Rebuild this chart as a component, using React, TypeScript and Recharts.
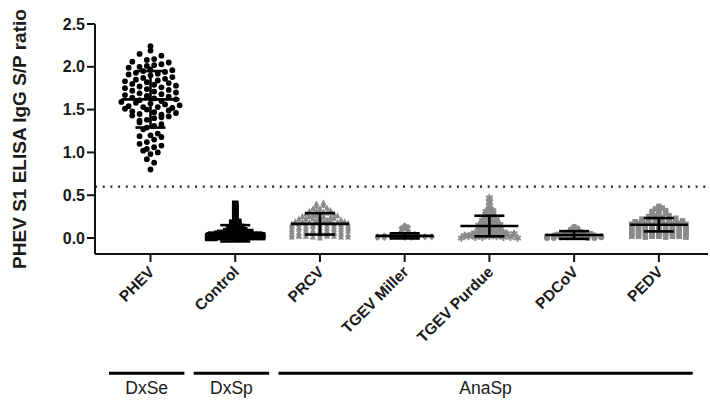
import React from 'react';
import { ComposedChart, Scatter, XAxis, YAxis, ReferenceLine } from 'recharts';

const categories = ['PHEV', 'Control', 'PRCV', 'TGEV Miller', 'TGEV Purdue', 'PDCoV', 'PEDV'];
const yTicks = [0, 0.5, 1.0, 1.5, 2.0, 2.5];
const yTitle = 'PHEV S1 ELISA IgG S/P ratio';
const cutoff = 0.6;

// group mean and SD
const means = [1.62, 0.055, 0.165, 0.025, 0.14, 0.035, 0.155];
const sds = [0.33, 0.095, 0.125, 0.03, 0.12, 0.045, 0.078];

const groups = [
  { label: 'DxSe', first: 0, last: 0 },
  { label: 'DxSp', first: 1, last: 1 },
  { label: 'AnaSp', first: 2, last: 6 },
];

const phev = [2.24, 2.19, 2.15, 2.13, 2.09, 2.08, 2.06, 2.05, 2.03, 2.02, 2.01, 2.0, 1.99, 1.97, 1.96, 1.95, 1.94,
  1.93, 1.92, 1.91, 1.9, 1.88, 1.87, 1.86, 1.85, 1.84, 1.83, 1.82, 1.81, 1.8, 1.79, 1.78, 1.77, 1.76, 1.75, 1.74,
  1.73, 1.72, 1.71, 1.7, 1.69, 1.68, 1.67, 1.66, 1.65, 1.64, 1.63, 1.62, 1.61, 1.6, 1.59, 1.58, 1.57, 1.56, 1.55,
  1.54, 1.53, 1.53, 1.52, 1.51, 1.5, 1.49, 1.48, 1.47, 1.46, 1.45, 1.44, 1.43, 1.42, 1.41, 1.4, 1.38, 1.37, 1.35,
  1.33, 1.31, 1.29, 1.27, 1.22, 1.2, 1.19, 1.18, 1.15, 1.12, 1.1, 1.08, 1.06, 1.04, 1.02, 1.0, 0.98, 0.92, 0.88, 0.8];

const control = [0.0, 0.01, 0.0, 0.01, 0.01, 0.0, 0.01, 0.0, 0.01, 0.01,
  0.02, 0.03, 0.02, 0.03, 0.03, 0.02, 0.03, 0.02, 0.03, 0.02,
  0.04, 0.05, 0.04, 0.05, 0.04, 0.05, 0.04, 0.05, 0.04,
  0.06, 0.07, 0.06, 0.07, 0.06, 0.07,
  0.08, 0.09, 0.08, 0.09,
  0.1, 0.11, 0.1,
  0.12, 0.13, 0.12,
  0.14, 0.15, 0.16, 0.17, 0.18, 0.19,
  0.21, 0.23, 0.25, 0.27, 0.29, 0.31, 0.33, 0.35, 0.37, 0.39, 0.4];

const prcv = [0.01, 0.02, 0.0, 0.02, 0.01, 0.02, 0.01, 0.02, 0.01,
  0.04, 0.05, 0.03, 0.05, 0.04, 0.03, 0.05, 0.04, 0.04,
  0.07, 0.08, 0.06, 0.07, 0.08, 0.06, 0.07, 0.08, 0.07,
  0.1, 0.11, 0.09, 0.1, 0.11, 0.1, 0.09, 0.11, 0.1,
  0.13, 0.14, 0.12, 0.13, 0.14, 0.12, 0.13, 0.14, 0.13,
  0.16, 0.17, 0.15, 0.16, 0.17, 0.16, 0.15, 0.17, 0.16,
  0.19, 0.2, 0.18, 0.19, 0.2, 0.19, 0.18, 0.2,
  0.22, 0.23, 0.21, 0.22, 0.23, 0.22, 0.21,
  0.25, 0.26, 0.24, 0.25, 0.26, 0.25,
  0.28, 0.29, 0.27, 0.28, 0.29,
  0.31, 0.32, 0.3, 0.31,
  0.34, 0.35, 0.34,
  0.37, 0.38,
  0.4, 0.41];

const tgevMiller = [0.0, 0.01, 0.0, 0.01, 0.01, 0.0, 0.01, 0.0, 0.01,
  0.02, 0.03, 0.02, 0.03, 0.02, 0.03, 0.02, 0.03, 0.02,
  0.04, 0.05, 0.04, 0.05,
  0.06, 0.07,
  0.08, 0.09,
  0.11,
  0.12, 0.13,
  0.15];

const tgevPurdue = [0.0, 0.01, 0.02, 0.01, 0.0, 0.02, 0.01, 0.02, 0.01,
  0.03, 0.04, 0.05, 0.04, 0.03, 0.05, 0.04, 0.03,
  0.06, 0.07, 0.08, 0.07, 0.06,
  0.09, 0.1, 0.11, 0.1,
  0.12, 0.13, 0.14, 0.13,
  0.15, 0.16, 0.17, 0.16,
  0.18, 0.19, 0.2,
  0.21, 0.22, 0.23,
  0.25, 0.26,
  0.28, 0.29,
  0.31, 0.32,
  0.34, 0.37, 0.42, 0.47];

const pdcov = [0.0, 0.01, 0.01, 0.0, 0.01, 0.0, 0.01, 0.01, 0.0,
  0.02, 0.03, 0.02, 0.03, 0.02, 0.03, 0.03, 0.02, 0.03,
  0.04, 0.05, 0.04, 0.05, 0.04, 0.05,
  0.06, 0.07, 0.06,
  0.08, 0.09,
  0.1, 0.11,
  0.13];

const pedv = [0.02, 0.01, 0.02, 0.02, 0.01, 0.02, 0.02, 0.01, 0.02,
  0.04, 0.05, 0.03, 0.05, 0.04, 0.05, 0.03, 0.04, 0.05,
  0.07, 0.08, 0.06, 0.08, 0.07, 0.08, 0.06, 0.07, 0.08,
  0.1, 0.11, 0.09, 0.11, 0.1, 0.11, 0.09, 0.1, 0.11,
  0.13, 0.14, 0.12, 0.14, 0.13, 0.14, 0.12, 0.13, 0.14,
  0.16, 0.17, 0.15, 0.17, 0.16, 0.17, 0.15, 0.16, 0.17,
  0.19, 0.2, 0.18, 0.2, 0.19, 0.2, 0.19, 0.2,
  0.22, 0.23, 0.21, 0.23, 0.22, 0.23,
  0.25, 0.26, 0.24, 0.26,
  0.28, 0.29, 0.28,
  0.31, 0.32, 0.31,
  0.34, 0.35,
  0.37];

const seriesValues = [phev, control, prcv, tgevMiller, tgevPurdue, pdcov, pedv];

const GRAY = '#8a8a8a';
const styles = [
  { kind: 'circle', color: '#000', size: 2.9, bin: 0.08, step: 0.086 },
  { kind: 'square', color: '#000', size: 6.5, bin: 0.02, step: 0.071 },
  { kind: 'triangle', color: GRAY, size: 6, bin: 0.03, step: 0.083 },
  { kind: 'diamond', color: GRAY, size: 6, bin: 0.02, step: 0.08 },
  { kind: 'star', color: GRAY, size: 6, bin: 0.03, step: 0.083 },
  { kind: 'circle', color: GRAY, size: 3, bin: 0.02, step: 0.08 },
  { kind: 'square', color: GRAY, size: 5.5, bin: 0.03, step: 0.08 },
];

function coprimeStride(n: number) {
  const gcd = (a: number, b: number): number => (b === 0 ? a : gcd(b, a % b));
  for (const s of [3, 2, 5, 7]) if (n > s && gcd(s, n) === 1) return s;
  return 1;
}

// column-scatter layout: values in the same row are spread side by side
function swarm(values: number[], idx: number, bin: number, step: number) {
  const rows = new Map<number, number[]>();
  values.forEach((v) => {
    const k = Math.floor(v / bin + 1e-6);
    if (!rows.has(k)) rows.set(k, []);
    rows.get(k)!.push(v);
  });
  const pts: { x: number; y: number }[] = [];
  rows.forEach((list) => {
    const n = list.length;
    const s = coprimeStride(n);
    list.forEach((v, i) => {
      const slot = (i * s) % n;
      pts.push({ x: idx + (slot - (n - 1) / 2) * step, y: v });
    });
  });
  return pts;
}

function Marker(props: any) {
  const { cx, cy, kind, color, size } = props;
  if (cx == null || cy == null) return null;
  if (kind === 'circle') return <circle cx={cx} cy={cy} r={size} fill={color} />;
  if (kind === 'square')
    return <rect x={cx - size / 2} y={cy - size / 2} width={size} height={size} fill={color} />;
  if (kind === 'triangle')
    return (
      <polygon
        points={`${cx},${cy - size * 0.6} ${cx - size / 2},${cy + size * 0.4} ${cx + size / 2},${cy + size * 0.4}`}
        fill={color}
      />
    );
  if (kind === 'diamond')
    return (
      <polygon
        points={`${cx},${cy - size / 2} ${cx + size / 2},${cy} ${cx},${cy + size / 2} ${cx - size / 2},${cy}`}
        fill={color}
      />
    );
  const r = size / 2;
  return (
    <g stroke={color} strokeWidth={2} strokeLinecap="round">
      <line x1={cx} y1={cy - r} x2={cx} y2={cy + r} />
      <line x1={cx - r * 0.87} y1={cy - r * 0.5} x2={cx + r * 0.87} y2={cy + r * 0.5} />
      <line x1={cx - r * 0.87} y1={cy + r * 0.5} x2={cx + r * 0.87} y2={cy - r * 0.5} />
    </g>
  );
}

// mean line (wide) and SD caps (narrow), drawn in pixels around each point
function BarTick(props: any) {
  const { cx, cy, payload } = props;
  if (cx == null || cy == null) return null;
  const half = payload.role === 'mean' ? 29 : 15;
  return <line x1={cx - half} y1={cy} x2={cx + half} y2={cy} stroke="#000" strokeWidth={2.6} />;
}

function CatTick(props: any) {
  const { x, y, payload } = props;
  return (
    <g transform={`translate(${x + 1},${y + 5})`}>
      <text
        x={0}
        y={0}
        dy="0.35em"
        textAnchor="end"
        transform="rotate(-45)"
        fontFamily="'Liberation Sans', Arial, sans-serif"
        fontWeight="bold"
        fontSize={15.5}
        fill="#1a1a1a"
      >
        {categories[payload.value]}
      </text>
    </g>
  );
}

function YTitle(props: any) {
  const vb = props.viewBox || { x: 0, y: 24, width: 95, height: 230 };
  const cx = vb.x + 19;
  const cy = vb.y + vb.height / 2;
  return (
    <text
      x={cx}
      y={cy}
      transform={`rotate(-90, ${cx}, ${cy})`}
      textAnchor="middle"
      dominantBaseline="central"
      fontFamily="'Liberation Sans', Arial, sans-serif"
      fontWeight="bold"
      fontSize={19}
      fill="#1a1a1a"
    >
      {yTitle}
    </text>
  );
}

const GROUP_LINE_Y = -1.58;

export default function App() {
  const font = "'Liberation Sans', Arial, sans-serif";
  return (
    <div style={{ position: 'absolute', left: 0, top: 0, background: '#fff' }}>
      <ComposedChart width={710} height={405} margin={{ top: 24, right: 2, bottom: 91, left: 0 }}>
        <XAxis
          type="number"
          dataKey="x"
          domain={[-0.655, 6.58]}
          allowDataOverflow
          ticks={[0, 1, 2, 3, 4, 5, 6]}
          interval={0}
          height={60}
          tickSize={8}
          tick={<CatTick />}
          axisLine={{ stroke: '#111', strokeWidth: 2 }}
          tickLine={{ stroke: '#111', strokeWidth: 2 }}
        />
        <YAxis
          type="number"
          dataKey="y"
          domain={[-0.187, 2.5]}
          allowDataOverflow
          ticks={yTicks}
          interval={0}
          width={95}
          tickSize={8}
          tickMargin={2}
          tickFormatter={(v: number) => v.toFixed(1)}
          tick={{ fontFamily: font, fontWeight: 'bold', fontSize: 16, fill: '#1a1a1a' }}
          axisLine={{ stroke: '#111', strokeWidth: 2 }}
          tickLine={{ stroke: '#111', strokeWidth: 2 }}
          label={<YTitle />}
        />
        <ReferenceLine y={cutoff} stroke="#222" strokeWidth={2.2} strokeDasharray="2 5.7" />
        {groups.map((g) => (
          <ReferenceLine
            key={g.label}
            ifOverflow="visible"
            stroke="#000"
            strokeWidth={3.2}
            segment={[{ x: g.first - 0.49, y: GROUP_LINE_Y }, { x: g.last + 0.4, y: GROUP_LINE_Y }]}
            label={{ value: g.label, position: 'bottom', offset: 8, fill: '#1a1a1a', fontSize: 17.5, fontFamily: font }}
          />
        ))}
        {seriesValues.map((vals, i) => {
          const st = styles[i];
          return (
            <Scatter
              key={categories[i]}
              name={categories[i]}
              data={swarm(vals, i, st.bin, st.step)}
              isAnimationActive={false}
              shape={(p: any) => <Marker {...p} kind={st.kind} color={st.color} size={st.size} />}
            />
          );
        })}
        {means.map((m, i) => (
          <Scatter
            key={'sd-' + categories[i]}
            name={'mean ± SD ' + categories[i]}
            data={[
              { x: i, y: m - sds[i], role: 'cap' },
              { x: i, y: m, role: 'mean' },
              { x: i, y: m + sds[i], role: 'cap' },
            ]}
            line={{ stroke: '#000', strokeWidth: 2.6 }}
            lineType="joint"
            isAnimationActive={false}
            shape={(p: any) => <BarTick {...p} />}
          />
        ))}
      </ComposedChart>
    </div>
  );
}
